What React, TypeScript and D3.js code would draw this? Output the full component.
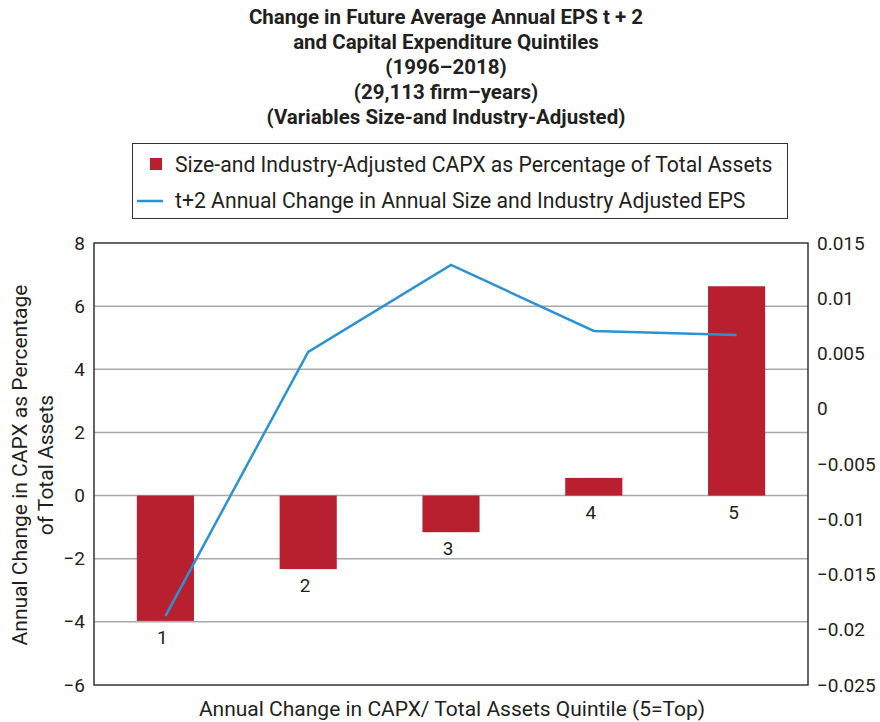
import React from "react";
import * as d3 from "d3";

const categories = ["1", "2", "3", "4", "5"];
const capxValues = [-3.97, -2.33, -1.16, 0.56, 6.63];
const epsValues = [-0.01876, 0.00514, 0.01301, 0.00704, 0.00667];
const leftTicks = [8, 6, 4, 2, 0, -2, -4, -6];
const rightTicks = [0.015, 0.01, 0.005, 0, -0.005, -0.01, -0.015, -0.02, -0.025];
const titleLines = [
  "Change in Future Average Annual EPS t + 2",
  "and Capital Expenditure Quintiles",
  "(1996–2018)",
  "(29,113 firm–years)",
  "(Variables Size-and Industry-Adjusted)",
];
const legendBar = "Size-and Industry-Adjusted CAPX as Percentage of Total Assets";
const legendLine = "t+2 Annual Change in Annual Size and Industry Adjusted EPS";
const yTitle = ["Annual Change in CAPX as Percentage", "of Total Assets"];
const xTitle = "Annual Change in CAPX/ Total Assets Quintile (5=Top)";

const W = 880, H = 722;
const plot = { left: 94, right: 808, top: 243, bottom: 685 };
const RED = "#B8202F";
const BLUE = "#2B93D3";
const TEXT = "#231F20";
const FONT = "Roboto, 'Noto Sans', sans-serif";

const fmt = (v: number) => {
  const s = String(Math.abs(v));
  return v < 0 ? "\u2212" + s : s;
};

export default function App() {
  const yL = d3.scaleLinear().domain([-6, 8]).range([plot.bottom, plot.top]);
  const yR = d3.scaleLinear().domain([-0.025, 0.015]).range([plot.bottom, plot.top]);
  const x = d3
    .scaleBand<string>()
    .domain(categories)
    .range([plot.left, plot.right])
    .paddingInner(0.6)
    .paddingOuter(0.3);
  const cx = (c: string) => (x(c) as number) + x.bandwidth() / 2;
  const line = d3
    .line<number>()
    .x((_, i) => cx(categories[i]))
    .y((d) => yR(d));

  return (
    <svg width={W} height={H} style={{ position: "absolute", left: 0, top: 0, background: "#fff" }} fontFamily={FONT}>
      <rect x={0} y={0} width={W} height={H} fill="#fff" />
      {titleLines.map((t, i) => (
        <text key={i} x={446} y={24 + i * 25} textAnchor="middle" fontSize={20.5} fontWeight="bold" fill={TEXT}>
          {t}
        </text>
      ))}
      {/* legend */}
      <rect x={132.5} y={143.5} width={655} height={75} fill="#fff" stroke="#333" strokeWidth={1} />
      <rect x={150} y={158} width={12} height={12} fill={RED} />
      <text x={175} y={172} fontSize={21.2} fill={TEXT}>{legendBar}</text>
      <line x1={137} x2={163} y1={201} y2={201} stroke={BLUE} strokeWidth={2.5} />
      <text x={175} y={208} fontSize={21.2} fill={TEXT}>{legendLine}</text>

      {/* gridlines */}
      {leftTicks.filter((t) => t !== 8 && t !== -6).map((t) => (
        <line key={t} x1={plot.left} x2={plot.right} y1={yL(t)} y2={yL(t)} stroke="#A7A9AC" strokeWidth={1.5} />
      ))}
      {/* bars */}
      {categories.map((c, i) => {
        const v = capxValues[i];
        return (
          <rect
            key={c}
            x={x(c)}
            width={x.bandwidth()}
            y={Math.min(yL(v), yL(0))}
            height={Math.abs(yL(v) - yL(0))}
            fill={RED}
          />
        );
      })}
      {/* category labels */}
      {categories.map((c, i) => {
        const v = capxValues[i];
        const base = v < 0 ? yL(v) : yL(0);
        return (
          <text key={c} x={cx(c) - 3} y={base + 23} textAnchor="middle" fontSize={19} fill={TEXT}>
            {c}
          </text>
        );
      })}
      {/* line */}
      <path d={line(epsValues) || ""} fill="none" stroke={BLUE} strokeWidth={2.5} />
      {/* frame */}
      <rect x={plot.left} y={plot.top} width={plot.right - plot.left} height={plot.bottom - plot.top} fill="none" stroke="#333" strokeWidth={1.5} />
      {/* left ticks */}
      {leftTicks.map((t) => (
        <text key={t} x={85} y={yL(t) + 6.5} textAnchor="end" fontSize={19} fill={TEXT}>
          {fmt(t)}
        </text>
      ))}
      {rightTicks.map((t) => (
        <text key={t} x={817} y={yR(t) + 6.5} textAnchor="start" fontSize={19} fill={TEXT}>
          {fmt(t)}
        </text>
      ))}
      {/* y title */}
      <g transform={`translate(27, 465) rotate(-90)`}>
        <text x={0} y={0} textAnchor="middle" fontSize={21} fill={TEXT}>{yTitle[0]}</text>
        <text x={0} y={26} textAnchor="middle" fontSize={21} fill={TEXT}>{yTitle[1]}</text>
      </g>
      <text x={452} y={716} textAnchor="middle" fontSize={21} fill={TEXT}>{xTitle}</text>
    </svg>
  );
}
